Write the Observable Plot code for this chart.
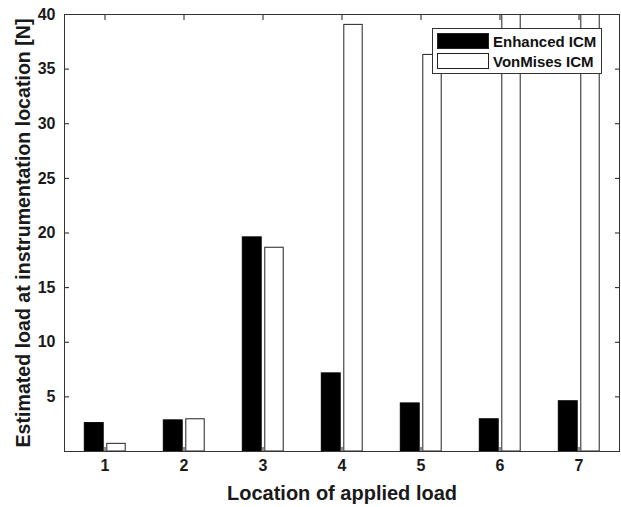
<!DOCTYPE html>
<html><head><meta charset="utf-8">
<script src="https://cdn.jsdelivr.net/npm/d3@7"></script>
<script src="https://cdn.jsdelivr.net/npm/@observablehq/plot@0.6"></script>
<style>
body{margin:0;background:#fff;}
#wrap{position:relative;width:621px;height:507px;font-family:"Liberation Sans",Arial,sans-serif;}
#legend{position:absolute;left:432px;top:28px;width:170px;height:46px;border:1px solid #333;background:#fff;box-sizing:border-box;}
.row{position:absolute;left:4px;height:16px;display:flex;align-items:center;}
.sw{width:52px;height:16px;box-sizing:border-box;border:1px solid #222;}
.lbl{margin-left:4px;font-weight:bold;font-size:15px;color:#111;white-space:nowrap;}
</style></head><body><div id="wrap"></div>
<script>
const categories = ["1","2","3","4","5","6","7"];
const seriesNames = ["Enhanced ICM","VonMises ICM"];
const enhanced = [2.6, 2.85, 19.6, 7.15, 4.4, 2.95, 4.6];
const vonMises = [0.7, 2.95, 18.65, 39.05, 36.3, 45, 45];
const yTicks = [5,10,15,20,25,30,35,40];
const xLabel = "Location of applied load";
const yLabel = "Estimated load at instrumentation location [N]";

const dataE = categories.map((c,i)=>({loc:c, value:enhanced[i], series:seriesNames[0]}));
const dataV = categories.map((c,i)=>({loc:c, value:vonMises[i], series:seriesNames[1]}));

const tickFont = {fontSize: 16, fontWeight: "bold"};
const chart = Plot.plot({
  width: 621, height: 507,
  marginLeft: 64, marginRight: 2, marginTop: 14, marginBottom: 56,
  style: {fontFamily: "'Liberation Sans', Arial, sans-serif", fontSize: "16px", fontWeight: "bold", color: "#1a1a1a", background: "#fff"},
  x: {type: "band", domain: categories, range: [62.6, 619.8], padding: 0, label: null},
  y: {domain: [0, 40], label: null},
  marks: [
    Plot.axisY({anchor: "left", ticks: yTicks, tickSize: -5, tickPadding: 14, label: null, ...tickFont}),
    Plot.axisY({anchor: "right", ticks: yTicks, tickSize: -5, tickFormat: () => "", label: null}),
    Plot.axisX({anchor: "bottom", tickSize: -4, tickPadding: 12, label: null, ...tickFont}),
    Plot.axisX({anchor: "top", tickSize: -5, tickFormat: () => "", label: null}),
    Plot.barY(dataE, {x: "loc", y: "value", fill: "#000", stroke: "#000", insetLeft: 19.3, insetRight: 40.8, clip: true}),
    Plot.barY(dataV, {x: "loc", y: "value", fill: "#fff", stroke: "#222", insetLeft: 41.8, insetRight: 18.8, clip: true}),
    Plot.frame({stroke: "#333"}),
    Plot.text([xLabel], {frameAnchor: "bottom", dy: 42, lineAnchor: "middle", fontSize: 20, fontWeight: "bold", fill: "#1a1a1a"}),
    Plot.text([yLabel], {frameAnchor: "left", dx: -41, rotate: -90, textAnchor: "middle", lineAnchor: "middle", fontSize: 19.6, fontWeight: "bold", fill: "#1a1a1a"})
  ]
});
const wrap = document.getElementById("wrap");
wrap.appendChild(chart);

const legend = document.createElement("div");
legend.id = "legend";
const fills = ["#000", "#fff"];
seriesNames.forEach((name, i) => {
  const row = document.createElement("div");
  row.className = "row";
  row.style.top = (4 + i * 20) + "px";
  const sw = document.createElement("div");
  sw.className = "sw";
  sw.style.background = fills[i];
  const lbl = document.createElement("span");
  lbl.className = "lbl";
  lbl.textContent = name;
  row.appendChild(sw); row.appendChild(lbl);
  legend.appendChild(row);
});
wrap.appendChild(legend);
</script></body></html>
